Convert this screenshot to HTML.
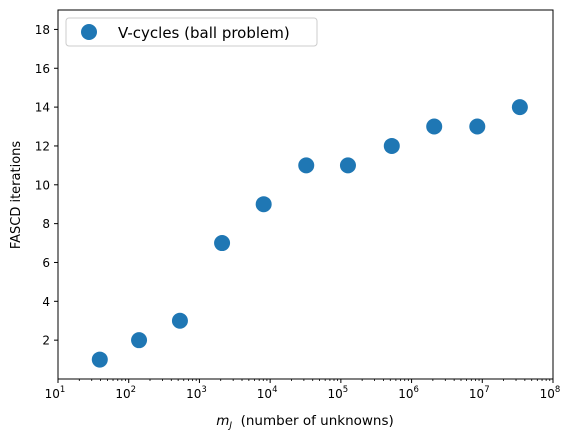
<!DOCTYPE html>
<html><head><meta charset="utf-8"><style>
body{margin:0;background:#fff}
svg text{font-family:"DejaVu Sans","Liberation Sans",sans-serif;fill:#000}
</style></head><body>
<svg id="chart" width="575" height="442" viewBox="0 0 575 442" xmlns="http://www.w3.org/2000/svg">
<rect x="0" y="0" width="575" height="442" fill="#fff"/>
<g id="grid"></g>
<g id="marks"></g>
<rect x="58" y="10" width="495" height="369" fill="none" stroke="#000" stroke-width="1"/>
<text x="305" y="425" font-size="13.5" text-anchor="middle"><tspan font-style="italic">m</tspan><tspan font-size="9" dy="3" font-style="italic">J</tspan><tspan dy="-3" xml:space="preserve">  (number of unknowns)</tspan></text>
<text transform="translate(20,195) rotate(-90)" font-size="13" text-anchor="middle">FASCD iterations</text>
<g>
<rect x="66" y="18" width="251" height="28" rx="3" fill="#fff" stroke="#ccc"/>
<circle cx="89" cy="32" r="8" fill="#1f77b4"/>
<text x="118" y="38" font-size="15">V-cycles (ball problem)</text>
</g>
</svg>
<script>
const xValues=[39,140,530,2090,8100,32400,126000,525000,2090000,8500000,34000000];
const yValues=[1,2,3,7,9,11,11,12,13,13,14];
const xTickExps=[1,2,3,4,5,6,7,8];
const yTicks=[2,4,6,8,10,12,14,16,18];
const L=58,R=553,T=10,B=379;
const xs=v=>L+(Math.log10(v)-1)/7*(R-L);
const ys=v=>B-v/19*(B-T);
const NS="http://www.w3.org/2000/svg";
const g=document.getElementById('grid'),m=document.getElementById('marks');
function el(t,a,p){const e=document.createElementNS(NS,t);for(const k in a)e.setAttribute(k,a[k]);p.appendChild(e);return e;}
xTickExps.forEach(e=>{
 const x=xs(Math.pow(10,e));
 const t=el('line',{x1:x,x2:x,y1:B,y2:B+4,stroke:'#000'},g);
 
 
 const tx=el('text',{x:x-3,y:B+19,'font-size':12,'text-anchor':'middle'},g);
 
 
 tx.innerHTML='10<tspan font-size="8.5" dy="-6">'+e+'</tspan>';
 if(e<8){for(let k=2;k<10;k++){const xm=xs(k*Math.pow(10,e));el('line',{x1:xm,x2:xm,y1:B,y2:B+2,stroke:'#000','stroke-width':0.8},g);}}
});
yTicks.forEach(v=>{
 const y=ys(v);
 const t=el('line',{x1:L-4,x2:L,y1:y,y2:y,stroke:'#000'},g);
 
 
 const tx=el('text',{x:L-8,y:y+4.5,'font-size':12,'text-anchor':'end'},g);
 
 
 tx.textContent=v;
});
xValues.forEach((xv,i)=>{
 const c=el('circle',{cx:xs(xv),cy:ys(yValues[i]),r:8,fill:'#1f77b4'},m);
 
 
});
</script>
</body></html>
